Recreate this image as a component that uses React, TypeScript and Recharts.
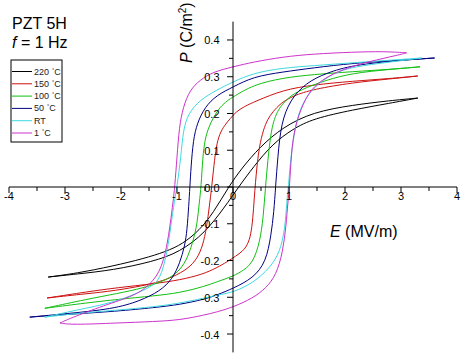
import React from 'react';
import { LineChart, Line, XAxis, YAxis, ReferenceLine, ReferenceDot } from 'recharts';

// loops, [E (MV/m), P (C/m2)], each branch ordered by E
const upper220 = [[-3.3, -0.245], [-2.8, -0.235], [-2.14, -0.215], [-1.6, -0.195], [-1.2, -0.176], [-0.9, -0.155], [-0.6, -0.118], [-0.35, -0.07], [-0.08, 0], [0.15, 0.05], [0.48, 0.109], [0.89, 0.163], [1.43, 0.204], [2.14, 0.223], [2.8, 0.235], [3.3, 0.242]];
const lower220 = [[-3.3, -0.245], [-2.8, -0.237], [-2.14, -0.226], [-1.43, -0.203], [-0.95, -0.177], [-0.5, -0.125], [-0.15, -0.055], [0.1, 0], [0.36, 0.054], [0.71, 0.118], [1.07, 0.158], [1.43, 0.186], [2.14, 0.21], [2.8, 0.228], [3.3, 0.242]];

const upper150 = [[-3.32, -0.302], [-2.6, -0.29], [-2.14, -0.283], [-1.43, -0.264], [-1.07, -0.245], [-0.8, -0.222], [-0.64, -0.195], [-0.54, -0.16], [-0.47, -0.11], [-0.42, -0.05], [-0.38, 0], [-0.34, 0.06], [-0.3, 0.11], [-0.24, 0.145], [-0.15, 0.168], [-0.05, 0.186], [0.05, 0.204], [0.2, 0.219], [0.4, 0.233], [0.89, 0.264], [1.43, 0.278], [2.14, 0.288], [2.8, 0.295], [3.3, 0.302]];
const lower150 = [[-3.32, -0.302], [-2.6, -0.285], [-2.07, -0.274], [-1.4, -0.263], [-0.95, -0.253], [-0.55, -0.238], [-0.29, -0.22], [-0.1, -0.203], [0.05, -0.188], [0.17, -0.175], [0.26, -0.158], [0.32, -0.13], [0.355, -0.085], [0.38, -0.03], [0.4, 0.01], [0.43, 0.06], [0.47, 0.11], [0.54, 0.155], [0.62, 0.185], [0.71, 0.204], [0.85, 0.228], [1.07, 0.248], [1.43, 0.266], [2.14, 0.284], [2.8, 0.294], [3.3, 0.302]];

const upper100 = [[-3.36, -0.33], [-2.6, -0.305], [-2.07, -0.29], [-1.6, -0.275], [-1.18, -0.253], [-0.95, -0.228], [-0.8, -0.19], [-0.7, -0.14], [-0.64, -0.1], [-0.6, -0.04], [-0.57, 0], [-0.54, 0.082], [-0.5, 0.13], [-0.44, 0.16], [-0.35, 0.19], [-0.23, 0.218], [-0.1, 0.235], [0, 0.245], [0.36, 0.278], [0.89, 0.297], [1.43, 0.306], [2.14, 0.314], [2.8, 0.32], [3.34, 0.327]];
const lower100 = [[-3.36, -0.33], [-2.6, -0.315], [-2.07, -0.306], [-1.4, -0.296], [-0.95, -0.288], [-0.5, -0.27], [-0.29, -0.258], [0, -0.243], [0.2, -0.226], [0.36, -0.204], [0.48, -0.15], [0.54, -0.084], [0.58, 0], [0.62, 0.07], [0.68, 0.155], [0.76, 0.195], [0.84, 0.218], [1.0, 0.245], [1.2, 0.264], [1.66, 0.291], [2.14, 0.31], [2.8, 0.32], [3.34, 0.327]];

const upper50 = [[-3.63, -0.354], [-3.0, -0.345], [-2.14, -0.332], [-1.66, -0.31], [-1.3, -0.283], [-1.08, -0.25], [-0.95, -0.207], [-0.86, -0.16], [-0.82, -0.117], [-0.79, -0.05], [-0.77, 0], [-0.75, 0.054], [-0.71, 0.128], [-0.64, 0.174], [-0.5, 0.218], [-0.29, 0.25], [0, 0.272], [0.36, 0.3], [0.89, 0.313], [1.43, 0.324], [2.14, 0.337], [3.0, 0.345], [3.6, 0.351]];
const lower50 = [[-3.63, -0.354], [-3.0, -0.347], [-2.07, -0.338], [-1.4, -0.328], [-0.95, -0.32], [-0.5, -0.305], [-0.29, -0.294], [0, -0.276], [0.36, -0.248], [0.59, -0.204], [0.68, -0.131], [0.73, -0.068], [0.76, 0], [0.8, 0.082], [0.86, 0.174], [1.02, 0.237], [1.3, 0.283], [1.66, 0.31], [2.14, 0.332], [3.0, 0.345], [3.6, 0.351]];

const upperRT = [[-3.36, -0.354], [-2.8, -0.335], [-2.14, -0.315], [-1.66, -0.286], [-1.43, -0.268], [-1.3, -0.248], [-1.2, -0.195], [-1.13, -0.13], [-1.06, -0.05], [-1.0, 0], [-0.93, 0.082], [-0.89, 0.155], [-0.8, 0.2], [-0.59, 0.237], [-0.29, 0.264], [0, 0.286], [0.36, 0.31], [0.89, 0.324], [1.43, 0.33], [2.14, 0.338], [2.8, 0.345], [3.37, 0.351]];
const lowerRT = [[-3.36, -0.354], [-2.8, -0.344], [-2.07, -0.335], [-1.4, -0.326], [-0.95, -0.316], [-0.5, -0.302], [-0.29, -0.294], [0, -0.287], [0.36, -0.261], [0.66, -0.22], [0.84, -0.177], [0.93, -0.112], [0.96, -0.04], [0.99, 0], [1.03, 0.08], [1.1, 0.155], [1.2, 0.218], [1.43, 0.272], [1.79, 0.31], [2.14, 0.327], [2.8, 0.34], [3.37, 0.351]];

const upper1 = [[-3.09, -0.37], [-2.98, -0.362], [-2.38, -0.326], [-1.8, -0.298], [-1.55, -0.275], [-1.3, -0.234], [-1.18, -0.163], [-1.12, -0.1], [-1.07, -0.04], [-1.04, 0], [-1.0, 0.082], [-0.96, 0.163], [-0.89, 0.218], [-0.77, 0.264], [-0.59, 0.291], [-0.36, 0.313], [0, 0.327], [0.36, 0.34], [0.89, 0.354], [1.43, 0.362], [2.14, 0.367], [2.7, 0.369], [3.1, 0.365]];
const lower1 = [[-3.09, -0.37], [-2.88, -0.375], [-2.07, -0.37], [-1.4, -0.366], [-0.95, -0.362], [-0.5, -0.348], [-0.29, -0.34], [0, -0.327], [0.36, -0.302], [0.59, -0.275], [0.77, -0.24], [0.89, -0.177], [0.95, -0.103], [0.98, -0.04], [1.01, 0], [1.04, 0.09], [1.1, 0.163], [1.25, 0.228], [1.43, 0.275], [1.79, 0.31], [2.14, 0.328], [2.39, 0.34], [2.98, 0.36], [3.1, 0.365]];

const seriesNames = ['220', '150', '100', '50', 'RT', '1'];
const seriesColors = ['#000000', '#cc1111', '#11c011', '#000080', '#3fd9e0', '#cc33cc'];
const seriesLoops = [
  [upper220, lower220],
  [upper150, lower150],
  [upper100, lower100],
  [upper50, lower50],
  [upperRT, lowerRT],
  [upper1, lower1],
];

const xMajor = [-4, -3, -2, -1, 0, 1, 2, 3, 4];
const xMajorLabels = ['-4', '-3', '-2', '-1', '0', '1', '2', '3', '4'];
const xMinor = [-3.5, -2.5, -1.5, -0.5, 0.5, 1.5, 2.5, 3.5];
const yMajor = [0.4, 0.3, 0.2, 0.1, 0, -0.1, -0.2, -0.3, -0.4];
const yMajorLabels = ['0.4', '0.3', '0.2', '0.1', '0.0', '-0.1', '-0.2', '-0.3', '-0.4'];
const yMinor = [0.35, 0.25, 0.15, 0.05, -0.05, -0.15, -0.25, -0.35];

const FONT = '"Liberation Sans", Arial, sans-serif';

const toRows = (pts: number[][]) => pts.map(([e, p]) => ({ e, p }));

export default function App() {
  return (
    <div style={{ position: 'absolute', left: 0, top: 0, width: 463, height: 360, background: '#fff', fontFamily: FONT }}>
      <LineChart width={463} height={360} margin={{ top: 21.6, right: 6, bottom: 7.6, left: 9 }}>
        <XAxis type="number" dataKey="e" domain={[-4, 4]} hide allowDataOverflow />
        <YAxis type="number" domain={[-0.45, 0.45]} hide allowDataOverflow />
        {seriesLoops.map((loop, i) =>
          loop.map((branch, j) => (
            <Line
              key={`${i}-${j}`}
              data={toRows(branch)}
              dataKey="p"
              type="basis"
              stroke={seriesColors[i]}
              strokeWidth={1}
              dot={false}
              activeDot={false}
              isAnimationActive={false}
            />
          ))
        )}
        <ReferenceLine x={0} stroke="#000" strokeWidth={1} />
        <ReferenceLine y={0} stroke="#000" strokeWidth={1} />
        {xMajor.map((v, i) => (
          <ReferenceDot
            key={`xm${v}`}
            x={v}
            y={0}
            r={0}
            shape={(p: any) => (
              <g>
                <line x1={p.cx} x2={p.cx} y1={p.cy} y2={p.cy + 6} stroke="#000" />
                <text x={p.cx} y={p.cy + 12.5} textAnchor="middle" fontSize={11} fontFamily={FONT} fill="#000">
                  {xMajorLabels[i]}
                </text>
              </g>
            )}
          />
        ))}
        {xMinor.map((v) => (
          <ReferenceDot
            key={`xn${v}`}
            x={v}
            y={0}
            r={0}
            shape={(p: any) => <line x1={p.cx} x2={p.cx} y1={p.cy} y2={p.cy + 4} stroke="#000" />}
          />
        ))}
        {yMajor.map((v, i) => (
          <ReferenceDot
            key={`ym${v}`}
            x={0}
            y={v}
            r={0}
            shape={(p: any) => (
              <g>
                <line x1={p.cx - 6} x2={p.cx} y1={p.cy} y2={p.cy} stroke="#000" />
                <text x={p.cx - 13.5} y={p.cy + 4.5} textAnchor="end" fontSize={11} fontFamily={FONT} fill="#000">
                  {yMajorLabels[i]}
                </text>
              </g>
            )}
          />
        ))}
        {yMinor.map((v) => (
          <ReferenceDot
            key={`yn${v}`}
            x={0}
            y={v}
            r={0}
            shape={(p: any) => <line x1={p.cx - 4} x2={p.cx} y1={p.cy} y2={p.cy} stroke="#000" />}
          />
        ))}
      </LineChart>

      <svg width={463} height={360} style={{ position: 'absolute', left: 0, top: 0, pointerEvents: 'none' }}>
        <text x={12} y={28.5} fontSize={16} fontFamily={FONT} fill="#000">PZT 5H</text>
        <text x={12} y={47.5} fontSize={16} fontFamily={FONT} fill="#000">
          <tspan fontStyle="italic">f</tspan> = 1 Hz
        </text>

        <rect x={11} y={60} width={51} height={82} fill="#fff" stroke="#000" strokeWidth={1} />
        {seriesNames.map((name, i) => {
          const y = 71.5 + i * 12.3;
          return (
            <g key={name}>
              <line x1={12} x2={32} y1={y} y2={y} stroke={seriesColors[i]} strokeWidth={1} />
              <text x={34} y={y + 3} fontSize={9} fontFamily={FONT} fill="#222">
                {name === 'RT' ? (
                  'RT'
                ) : (
                  <>
                    {name}
                    <tspan dx={3} dy={-3} fontSize={5.5}>°</tspan>
                    <tspan dy={3}>C</tspan>
                  </>
                )}
              </text>
            </g>
          );
        })}

        <text x={330} y={237} fontSize={16} fontFamily={FONT} fill="#000">
          <tspan fontStyle="italic">E</tspan> (MV/m)
        </text>
        <text x={0} y={0} transform="translate(192 63) rotate(-90)" fontSize={16} fontFamily={FONT} fill="#000">
          <tspan fontStyle="italic">P</tspan> (C/m<tspan dy={-6} fontSize={10}>2</tspan><tspan dy={6}>)</tspan>
        </text>
      </svg>
    </div>
  );
}
